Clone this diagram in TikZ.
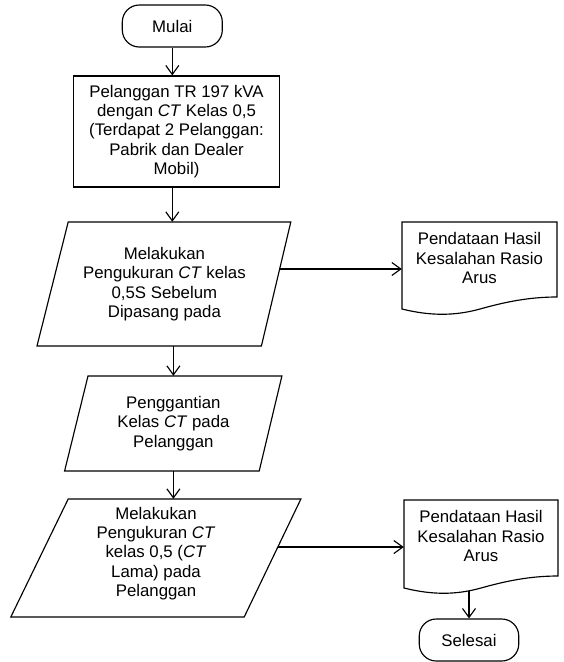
\documentclass[tikz,border=0pt]{standalone}
\usepackage{fontspec}
\setmainfont{Liberation Sans}
\usetikzlibrary{arrows.meta}
\begin{document}
\begin{tikzpicture}[x=1pt,y=-1pt,
  every node/.style={font=\fontsize{16.8}{19.4}\selectfont, align=center, inner sep=0pt},
  shp/.style={line width=1.15pt, line join=miter},
  term/.style={draw, shp, rounded corners=17pt, minimum width=100pt, minimum height=42pt},
  arr/.style={line width=1.15pt, -{Straight Barb[length=9pt,width=13pt]}},
  ]
\useasboundingbox (0,0) rectangle (563,662);

% start
\node[term] (mulai) at (172.3,26) {Mulai};

% process box
\node[draw, shp, minimum width=205.8pt, minimum height=111pt] (box1) at (176.5,131.5)
  {Pelanggan TR 197 kVA\\dengan \textit{CT} Kelas 0,5\\(Terdapat 2 Pelanggan:\\Pabrik dan Dealer\\Mobil)};

% parallelogram 1
\draw[shp] (68.2,222) -- (290.8,222) -- coordinate[pos=0.379] (p1r) (261.4,346) -- (37,346) -- cycle;
\node[minimum height=124pt] (p1) at (164.4,284)
  {Melakukan\\Pengukuran \textit{CT} kelas\\0,5S Sebelum\\Dipasang pada};

% parallelogram 2
\draw[shp] (88,376) -- (281.9,376) -- (259.2,471) -- (64.6,471) -- cycle;
\node[minimum height=95pt] (p2) at (173.4,423.5)
  {Penggantian\\Kelas \textit{CT} pada\\Pelanggan};

% parallelogram 3
\draw[shp] (68.2,499) -- (300.9,499) -- coordinate[pos=0.407] (p3r) (244.2,617) -- (10.8,617) -- cycle;
\node[minimum height=109pt] (p3) at (156,553.5)
  {Melakukan\\Pengukuran \textit{CT}\\kelas 0,5 (\textit{CT}\\Lama) pada\\Pelanggan};

% document 1
\draw[shp] (402,222) -- (557,222) -- (557,297)
  .. controls (529,297) and (505,302) .. (480,309)
  .. controls (455,316) and (430,316) .. (402,309) -- cycle;
\node[minimum width=155pt] (d1) at (479.5,258)
  {Pendataan Hasil\\Kesalahan Rasio\\Arus};

% document 2
\draw[shp] (404,500) -- (558,500) -- (558,576)
  .. controls (530,576) and (506,581) .. (481,588)
  .. controls (456,595) and (432,595) .. coordinate[pos=0.2] (d2b) (404,588) -- cycle;
\node[minimum width=154pt] (d2) at (481,536)
  {Pendataan Hasil\\Kesalahan Rasio\\Arus};

% end
\node[term, minimum width=99.5pt] (selesai) at (469,640) {Selesai};

% connectors
\draw[arr] (mulai.south) -- (mulai.south |- box1.north);
\draw[arr] (box1.south -| mulai.south) -- (p1.north -| mulai.south);
\draw[arr] (p1.south -| p2.north) -- (p2.north);
\draw[arr] (p2.south) -- (p2.south |- p3.north);
\draw[arr] (p1r) -- (p1r -| d1.west);
\draw[arr] (p3r) -- (p3r -| d2.west);
\draw[arr] (selesai.north |- d2b) -- (selesai.north);
\end{tikzpicture}
\end{document}
